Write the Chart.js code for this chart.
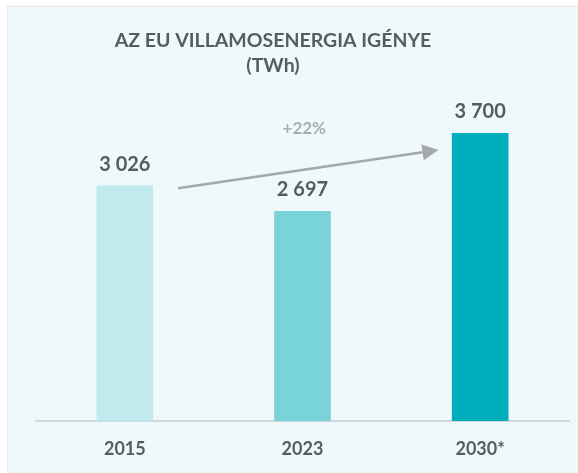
<!DOCTYPE html>
<html>
<head>
<meta charset="utf-8">
<script src="https://cdn.jsdelivr.net/npm/chart.js@4.4.1/dist/chart.umd.min.js"></script>
<style>
  html, body { margin: 0; padding: 0; background: #ffffff; }
  #wrap { width: 578px; height: 473px; position: relative; }
</style>
</head>
<body>
<div id="wrap"><canvas id="demandChart"></canvas></div>
<script>
// data
const years = ["2015", "2023", "2030*"];
const demandTWh = [3026, 2697, 3700];
const barColors = ["#c1eaee", "#79d4da", "#00aebb"];
const titleLines = ["AZ EU VILLAMOSENERGIA IGÉNYE", "(TWh)"];
const growthLabel = "+22%";

// arrow between 2015 and 2030, in data coordinates (category index, TWh)
const arrowFrom = [0.30, 2993];
const arrowTo = [1.765, 3486];
const growthLabelAt = [1.01, 3756];

const FONT = "Lato, 'Open Sans', sans-serif";
const TEXT_DARK = "#575c5e";

// format 3026 -> "3 026"
const fmt = (v) => String(v).replace(/\B(?=(\d{3})+(?!\d))/g, " ");

// panel background + custom title
const panelPlugin = {
  id: "panel",
  beforeDraw(chart) {
    const ctx = chart.ctx;
    ctx.save();
    ctx.fillStyle = "#e3e9eb";
    ctx.fillRect(7, 6, chart.width - 7, chart.height - 6);
    ctx.fillStyle = "#eff8fa";
    ctx.fillRect(8, 7, chart.width - 8, chart.height - 7);
    ctx.restore();
  },
  afterDraw(chart) {
    const ctx = chart.ctx;
    ctx.save();
    ctx.fillStyle = TEXT_DARK;
    ctx.font = "bold 19.5px " + FONT;
    ctx.textAlign = "center";
    ctx.textBaseline = "middle";
    ctx.fillText(titleLines[0], 273, 41);
    ctx.fillText(titleLines[1], 273, 66);
    ctx.restore();
  }
};

// value labels above bars
const valueLabels = {
  id: "valueLabels",
  afterDatasetsDraw(chart) {
    const ctx = chart.ctx;
    const meta = chart.getDatasetMeta(0);
    ctx.save();
    ctx.fillStyle = TEXT_DARK;
    ctx.font = "bold 20px " + FONT;
    ctx.textAlign = "center";
    ctx.textBaseline = "alphabetic";
    meta.data.forEach((bar, i) => {
      ctx.fillText(fmt(demandTWh[i]), bar.x, bar.y - 15);
    });
    ctx.restore();
  }
};

// growth arrow
const growthArrow = {
  id: "growthArrow",
  afterDatasetsDraw(chart) {
    const { ctx, scales: { x, y } } = chart;
    const x1 = x.getPixelForValue(arrowFrom[0]), y1 = y.getPixelForValue(arrowFrom[1]);
    const x2 = x.getPixelForValue(arrowTo[0]), y2 = y.getPixelForValue(arrowTo[1]);
    const ang = Math.atan2(y2 - y1, x2 - x1);
    const headLen = 16, headHalf = 8;
    const bx = x2 - headLen * Math.cos(ang), by = y2 - headLen * Math.sin(ang);

    ctx.save();
    ctx.strokeStyle = "#a4a8aa";
    ctx.fillStyle = "#a4a8aa";
    ctx.lineWidth = 2.5;
    ctx.beginPath();
    ctx.moveTo(x1, y1);
    ctx.lineTo(bx, by);
    ctx.stroke();
    ctx.beginPath();
    ctx.moveTo(x2, y2);
    ctx.lineTo(bx + headHalf * Math.sin(ang), by - headHalf * Math.cos(ang));
    ctx.lineTo(bx - headHalf * Math.sin(ang), by + headHalf * Math.cos(ang));
    ctx.closePath();
    ctx.fill();

    ctx.fillStyle = "#a9adaf";
    ctx.font = "bold 17px " + FONT;
    ctx.textAlign = "center";
    ctx.textBaseline = "middle";
    ctx.fillText(growthLabel, x.getPixelForValue(growthLabelAt[0]), y.getPixelForValue(growthLabelAt[1]));
    ctx.restore();
  }
};

new Chart(document.getElementById("demandChart"), {
  type: "bar",
  data: {
    labels: years,
    datasets: [{
      data: demandTWh,
      backgroundColor: barColors,
      borderWidth: 0,
      barThickness: 56
    }]
  },
  options: {
    responsive: true,
    maintainAspectRatio: false,
    animation: false,
    events: [],
    layout: { padding: { left: 36, right: 9, top: 110, bottom: 0 } },
    plugins: {
      legend: { display: false },
      title: { display: false },
      tooltip: { enabled: false }
    },
    scales: {
      x: {
        grid: { display: false, drawTicks: false },
        border: { display: true, color: "#cfd8da", width: 2 },
        ticks: {
          color: TEXT_DARK,
          font: { family: FONT, size: 18, weight: "bold" },
          padding: 17
        },
        afterFit(scale) { scale.height = 52; }
      },
      y: {
        display: false,
        min: 0,
        max: 4000
      }
    }
  },
  plugins: [panelPlugin, valueLabels, growthArrow]
});
</script>
</body>
</html>
